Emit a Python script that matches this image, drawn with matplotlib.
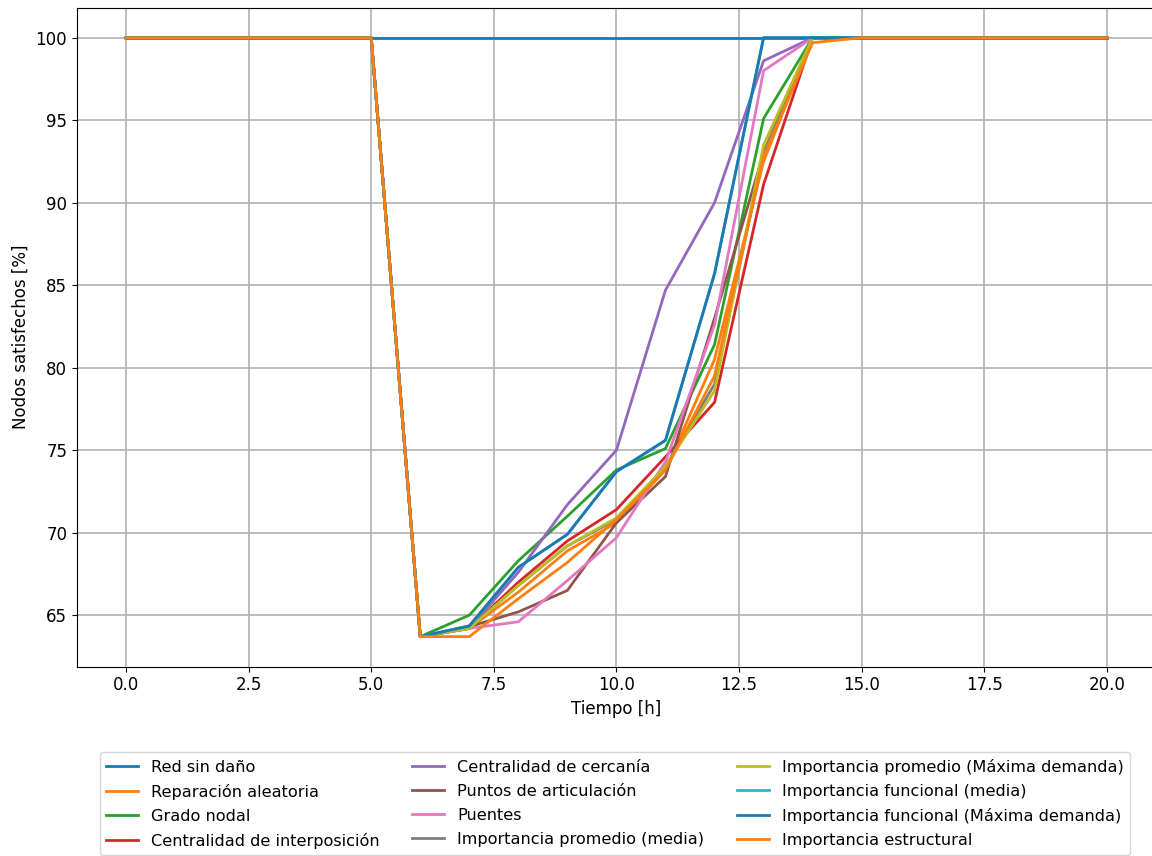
import numpy as np
import matplotlib
matplotlib.use("Agg")
import matplotlib.pyplot as plt

# horas de simulacion
tiempo = list(range(0, 21))

# porcentaje de nodos satisfechos por estrategia (t = 0..20)
antes = [100, 100, 100, 100, 100, 100, 63.7]
despues = [100, 100, 100, 100, 100, 100]

red_sin_dano = [100] * 21
reparacion_aleatoria = antes + [64.2, 66.4, 68.9, 70.6, 73.8, 80.5, 92.5, 100] + despues
grado_nodal = antes + [65.0, 68.3, 71.0, 73.8, 75.1, 81.4, 95.1, 100] + despues
centralidad_interposicion = antes + [64.2, 67.0, 69.5, 71.4, 74.6, 77.9, 91.1, 100] + despues
centralidad_cercania = antes + [64.2, 67.6, 71.7, 75.0, 84.7, 90.0, 98.6, 100] + despues
puntos_articulacion = antes + [64.3, 65.2, 66.5, 70.6, 73.4, 83.0, 93.0, 100] + despues
puentes = antes + [64.2, 64.6, 67.1, 69.7, 74.3, 82.6, 98.0, 100] + despues
imp_promedio_media = antes + [64.2, 66.8, 69.2, 70.8, 74.0, 79.0, 93.0, 100] + despues
imp_promedio_max = antes + [64.2, 66.8, 69.2, 70.9, 74.0, 78.6, 93.5, 100] + despues
imp_funcional_media = antes + [64.35, 67.9, 69.9, 73.7, 75.6, 85.7, 100, 100] + despues
imp_funcional_max = antes + [64.35, 67.9, 69.9, 73.7, 75.6, 85.7, 100, 100] + despues
imp_estructural = antes + [63.7, 66.0, 68.2, 70.8, 73.8, 79.5, 92.8, 99.7] + despues

series = [
    ("Red sin daño", red_sin_dano),
    ("Reparación aleatoria", reparacion_aleatoria),
    ("Grado nodal", grado_nodal),
    ("Centralidad de interposición", centralidad_interposicion),
    ("Centralidad de cercanía", centralidad_cercania),
    ("Puntos de articulación", puntos_articulacion),
    ("Puentes", puentes),
    ("Importancia promedio (media)", imp_promedio_media),
    ("Importancia promedio (Máxima demanda)", imp_promedio_max),
    ("Importancia funcional (media)", imp_funcional_media),
    ("Importancia funcional (Máxima demanda)", imp_funcional_max),
    ("Importancia estructural", imp_estructural),
]

plt.rcParams['font.size'] = 12

fig = plt.figure(figsize=(11.52, 8.56), dpi=100)
ax = fig.add_axes([0.0668, 0.2213, 0.9366, 0.7696])

for nombre, valores in series:
    ax.plot(tiempo, valores, linewidth=2, label=nombre)

ax.set_xlabel('Tiempo [h]')
ax.set_ylabel('Nodos satisfechos [%]')
ax.grid(True, color='#b0b0b0', linewidth=1.2)
ax.legend(loc='upper center', bbox_to_anchor=(0.4985, -0.118), ncol=3,
          fontsize=11.6, labelspacing=0.56, handlelength=2.0)

fig.savefig('out.png', dpi=100)
